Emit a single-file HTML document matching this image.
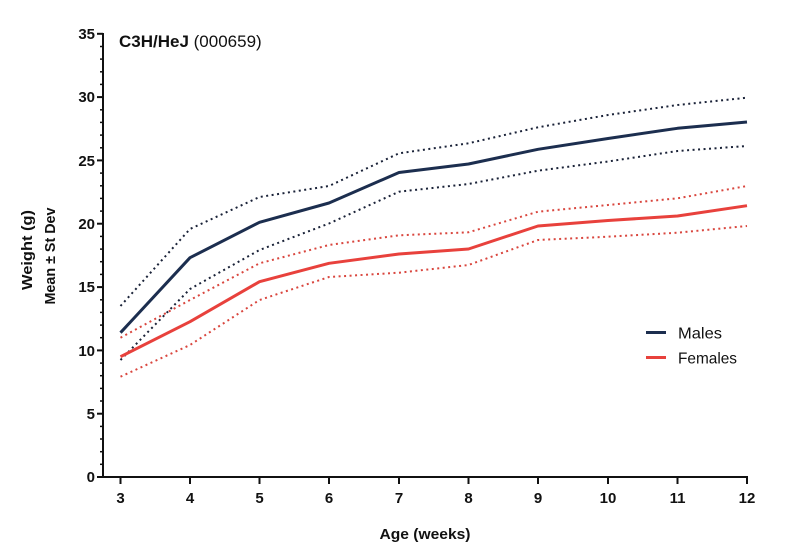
<!DOCTYPE html>
<html><head><meta charset="utf-8"><style>
html,body{margin:0;padding:0;background:#fff;}
svg{display:block;}
text{font-family:"Liberation Sans",sans-serif;}
</style></head><body>
<svg width="800" height="558" viewBox="0 0 800 558" xmlns="http://www.w3.org/2000/svg">
<rect width="800" height="558" fill="#fff"/>
<!-- axes -->
<g stroke="#111" stroke-width="2" fill="none">
<line x1="103" y1="33" x2="103" y2="478"/>
<line x1="102" y1="477" x2="748" y2="477"/>
<!-- major y ticks -->
<line x1="97" y1="477" x2="103" y2="477"/>
<line x1="97" y1="413.7" x2="103" y2="413.7"/>
<line x1="97" y1="350.4" x2="103" y2="350.4"/>
<line x1="97" y1="287.1" x2="103" y2="287.1"/>
<line x1="97" y1="223.7" x2="103" y2="223.7"/>
<line x1="97" y1="160.4" x2="103" y2="160.4"/>
<line x1="97" y1="97.1" x2="103" y2="97.1"/>
<line x1="97" y1="33.8" x2="103" y2="33.8"/>
<!-- x ticks -->
<line x1="120.5" y1="477" x2="120.5" y2="484"/>
<line x1="190" y1="477" x2="190" y2="484"/>
<line x1="259.5" y1="477" x2="259.5" y2="484"/>
<line x1="329" y1="477" x2="329" y2="484"/>
<line x1="399" y1="477" x2="399" y2="484"/>
<line x1="468.5" y1="477" x2="468.5" y2="484"/>
<line x1="538" y1="477" x2="538" y2="484"/>
<line x1="608" y1="477" x2="608" y2="484"/>
<line x1="677.5" y1="477" x2="677.5" y2="484"/>
<line x1="747" y1="477" x2="747" y2="484"/>
</g>
<!-- minor y ticks -->
<g stroke="#111" stroke-width="1.5">
<line x1="100" y1="464.3" x2="103" y2="464.3"/><line x1="100" y1="451.7" x2="103" y2="451.7"/><line x1="100" y1="439" x2="103" y2="439"/><line x1="100" y1="426.4" x2="103" y2="426.4"/>
<line x1="100" y1="401" x2="103" y2="401"/><line x1="100" y1="388.4" x2="103" y2="388.4"/><line x1="100" y1="375.7" x2="103" y2="375.7"/><line x1="100" y1="363.1" x2="103" y2="363.1"/>
<line x1="100" y1="337.7" x2="103" y2="337.7"/><line x1="100" y1="325.1" x2="103" y2="325.1"/><line x1="100" y1="312.4" x2="103" y2="312.4"/><line x1="100" y1="299.8" x2="103" y2="299.8"/>
<line x1="100" y1="274.4" x2="103" y2="274.4"/><line x1="100" y1="261.7" x2="103" y2="261.7"/><line x1="100" y1="249.1" x2="103" y2="249.1"/><line x1="100" y1="236.4" x2="103" y2="236.4"/>
<line x1="100" y1="211.1" x2="103" y2="211.1"/><line x1="100" y1="198.4" x2="103" y2="198.4"/><line x1="100" y1="185.8" x2="103" y2="185.8"/><line x1="100" y1="173.1" x2="103" y2="173.1"/>
<line x1="100" y1="147.8" x2="103" y2="147.8"/><line x1="100" y1="135.1" x2="103" y2="135.1"/><line x1="100" y1="122.4" x2="103" y2="122.4"/><line x1="100" y1="109.8" x2="103" y2="109.8"/>
<line x1="100" y1="84.4" x2="103" y2="84.4"/><line x1="100" y1="71.8" x2="103" y2="71.8"/><line x1="100" y1="59.1" x2="103" y2="59.1"/><line x1="100" y1="46.5" x2="103" y2="46.5"/>
</g>
<!-- y tick labels -->
<g font-size="15" font-weight="bold" fill="#111" text-anchor="end">
<text x="95" y="482">0</text>
<text x="95" y="419">5</text>
<text x="95" y="356">10</text>
<text x="95" y="292">15</text>
<text x="95" y="229">20</text>
<text x="95" y="166">25</text>
<text x="95" y="102">30</text>
<text x="95" y="39">35</text>
</g>
<!-- x tick labels -->
<g font-size="15" font-weight="bold" fill="#111" text-anchor="middle">
<text x="120.5" y="503">3</text>
<text x="190" y="503">4</text>
<text x="259.5" y="503">5</text>
<text x="329" y="503">6</text>
<text x="399" y="503">7</text>
<text x="468.5" y="503">8</text>
<text x="538" y="503">9</text>
<text x="608" y="503">10</text>
<text x="677.5" y="503">11</text>
<text x="747" y="503">12</text>
</g>
<!-- axis titles -->
<text x="425" y="539" font-size="15" font-weight="bold" fill="#111" text-anchor="middle" textLength="91" lengthAdjust="spacingAndGlyphs">Age (weeks)</text>
<text transform="translate(32,250) rotate(-90)" font-size="15" font-weight="bold" fill="#111" text-anchor="middle" textLength="80" lengthAdjust="spacingAndGlyphs">Weight (g)</text>
<text transform="translate(55,256) rotate(-90)" font-size="15" font-weight="bold" fill="#111" text-anchor="middle" textLength="97" lengthAdjust="spacingAndGlyphs">Mean ± St Dev</text>
<!-- title -->
<text x="119" y="47" font-size="17" fill="#111"><tspan font-weight="bold">C3H/HeJ</tspan> (000659)</text>
<!-- series -->
<g fill="none" stroke-linejoin="round">
<polyline stroke="#1a2238" stroke-width="2" stroke-dasharray="2 3.5" points="120.5,306 190,229 259.5,197 329,186 399,153.3 468.5,143.3 538,127.3 608,115 677.5,105 747,97.7"/>
<polyline stroke="#1a2238" stroke-width="2" stroke-dasharray="2 3.5" points="120.5,360 190,289 259.5,250 329,223.5 399,191.7 468.5,184 538,170.7 608,161.5 677.5,151 747,146"/>
<polyline stroke="#d9463e" stroke-width="2" stroke-dasharray="2 3.5" points="120.5,337.7 190,300 259.5,263.3 329,245 399,235.3 468.5,232.3 538,211.7 608,205 677.5,198.3 747,186"/>
<polyline stroke="#d9463e" stroke-width="2" stroke-dasharray="2 3.5" points="120.5,376.7 190,345 259.5,300 329,277 399,272.7 468.5,265 538,240 608,236.7 677.5,232.7 747,226"/>
<polyline stroke="#1c2e4f" stroke-width="3" points="120.5,332.7 190,257.7 259.5,222.3 329,203 399,172.5 468.5,164 538,149.3 608,138.5 677.5,128.3 747,122"/>
<polyline stroke="#e8413c" stroke-width="3" points="120.5,356.7 190,321.7 259.5,281.7 329,263.3 399,254 468.5,249 538,226 608,220.5 677.5,216 747,205.7"/>
</g>
<!-- legend -->
<line x1="646" y1="332.5" x2="666" y2="332.5" stroke="#1c2e4f" stroke-width="3"/>
<line x1="646" y1="357.5" x2="666" y2="357.5" stroke="#e8413c" stroke-width="3"/>
<text x="678" y="338.5" font-size="16" fill="#111" textLength="44" lengthAdjust="spacingAndGlyphs">Males</text>
<text x="678" y="363.5" font-size="16" fill="#111" textLength="59" lengthAdjust="spacingAndGlyphs">Females</text>
</svg>
</body></html>
